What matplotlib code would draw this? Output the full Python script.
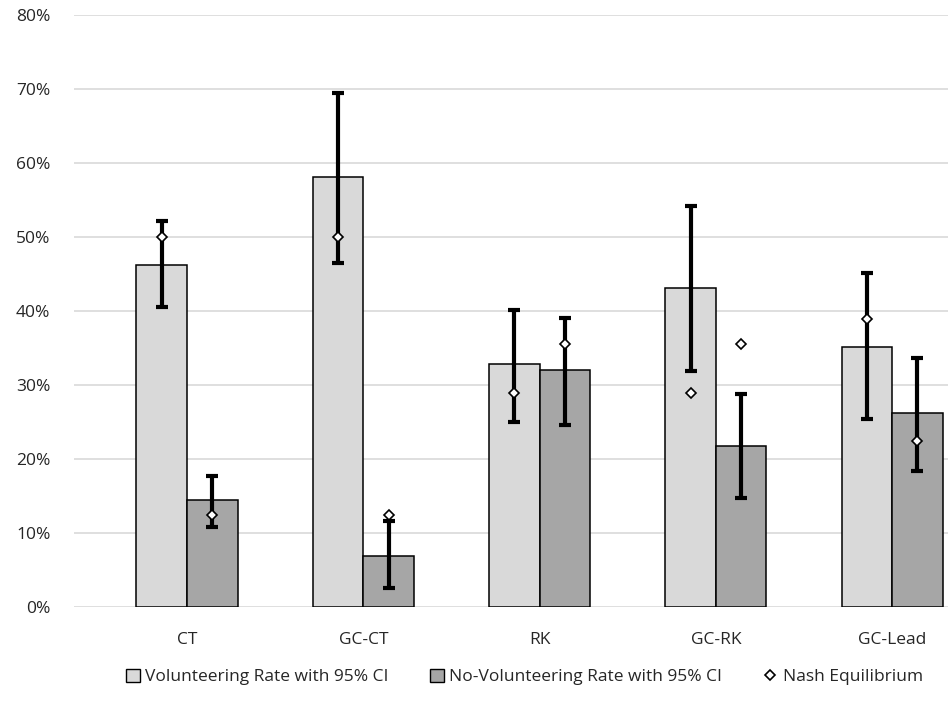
import numpy as np
import matplotlib.pyplot as plt
from matplotlib.ticker import PercentFormatter
from matplotlib.lines import Line2D
from matplotlib.patches import Patch

plt.rcParams['font.family'] = ['Open Sans', 'DejaVu Sans']

treatments = ['CT', 'GC-CT', 'RK', 'GC-RK', 'GC-Lead']

# volunteering rate, 95% CI bounds and Nash prediction (in %)
vol_rate = [46.2, 58.1, 32.8, 43.1, 35.2]
vol_lo = [40.6, 46.5, 25.0, 31.9, 25.4]
vol_hi = [52.1, 69.5, 40.2, 54.2, 45.1]
vol_nash = [50.0, 50.0, 28.9, 28.9, 38.9]

# no-volunteering rate, 95% CI bounds and Nash prediction (in %)
novol_rate = [14.5, 6.9, 32.0, 21.7, 26.2]
novol_lo = [10.8, 2.6, 24.6, 14.7, 18.4]
novol_hi = [17.7, 11.6, 39.0, 28.8, 33.6]
novol_nash = [12.4, 12.4, 35.5, 35.5, 22.4]

light = '#D9D9D9'
dark = '#A6A6A6'
txt = '#262626'
fs = 12.5

fig = plt.figure(figsize=(9.48, 7.03), dpi=100)
ax = fig.add_axes([74 / 948, 1 - 607 / 703, 874 / 948, 592 / 703])

x = np.arange(len(treatments))
w = 0.2865

def draw_series(xpos, rate, lo, hi, nash, color):
    rate = np.array(rate) / 100
    lo = np.array(lo) / 100
    hi = np.array(hi) / 100
    ax.bar(xpos, rate, width=w, color=color, edgecolor='black', linewidth=1.1, zorder=2)
    ax.errorbar(xpos, rate, yerr=[rate - lo, hi - rate], fmt='none', ecolor='black',
                elinewidth=3, capsize=4.5, capthick=3, zorder=3)
    ax.plot(xpos, np.array(nash) / 100, 'D', ms=5, mfc='white', mec='black', mew=1.2,
            linestyle='none', zorder=4)

draw_series(x - w / 2, vol_rate, vol_lo, vol_hi, vol_nash, light)
draw_series(x + w / 2, novol_rate, novol_lo, novol_hi, novol_nash, dark)

ax.set_xlim(-0.641, 4.317)
ax.set_ylim(0, 0.8)
ax.set_yticks(np.arange(0, 0.81, 0.1))
ax.yaxis.set_major_formatter(PercentFormatter(1.0, decimals=0))
ax.set_xticks(x)
ax.set_xticklabels(treatments)

ax.grid(axis='y', color='#D9D9D9', linewidth=1.2, zorder=0)
ax.set_axisbelow(True)
for s in ['top', 'right', 'left', 'bottom']:
    ax.spines[s].set_visible(False)
ax.tick_params(axis='both', length=0, labelsize=fs, colors=txt)
ax.tick_params(axis='y', pad=17)
ax.tick_params(axis='x', pad=18)

handles = [
    Patch(facecolor=light, edgecolor='black', linewidth=1),
    Patch(facecolor=dark, edgecolor='black', linewidth=1),
    Line2D([], [], marker='D', ms=5, mfc='white', mec='black', mew=1.2, linestyle='none'),
]
labels = ['Volunteering Rate with 95% CI', 'No-Volunteering Rate with 95% CI', 'Nash Equilibrium']
fig.legend(handles, labels, loc='center', bbox_to_anchor=(0.553, 1 - 677 / 703), ncol=3,
           frameon=False, fontsize=fs, handlelength=0.8, handleheight=0.8,
           handletextpad=0.3, columnspacing=2.4, labelcolor=txt)

fig.savefig('out.png', dpi=100)
